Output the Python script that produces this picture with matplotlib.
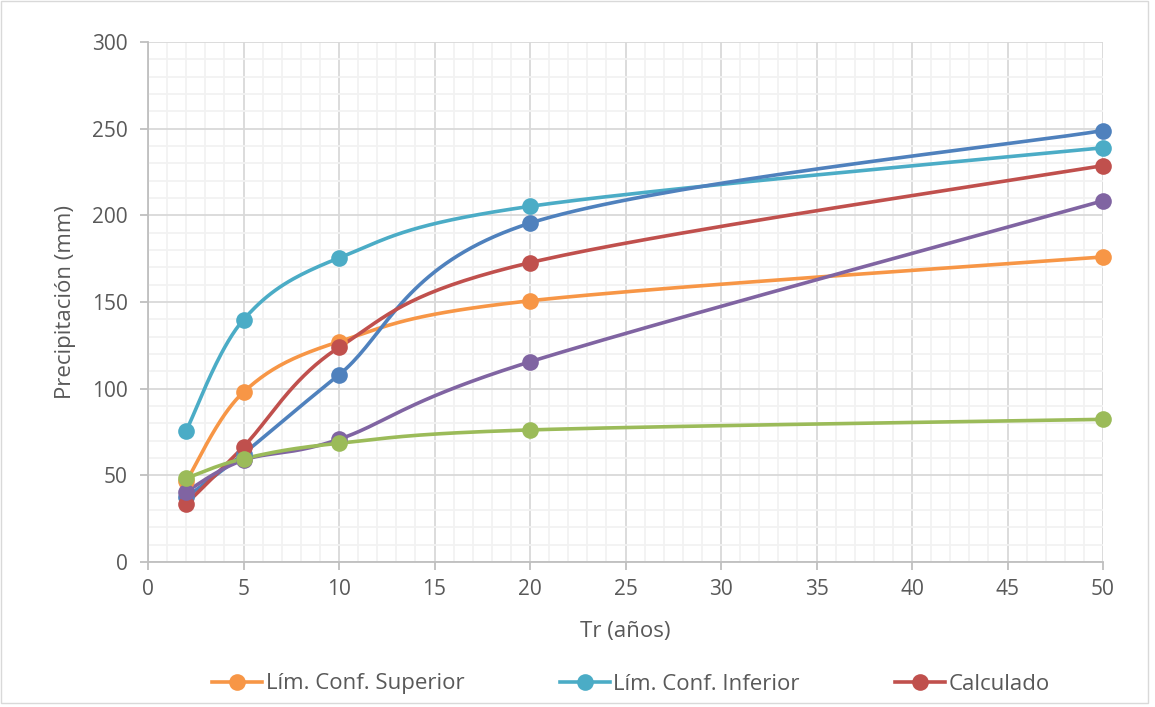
import numpy as np
import matplotlib
matplotlib.use("Agg")
import matplotlib.pyplot as plt
from matplotlib.patches import Rectangle
from matplotlib.lines import Line2D

# Return period (years) and precipitation (mm) for each curve
tr = [2, 5, 10, 20, 50]
lim_sup = [46.5, 98.0, 127.1, 150.7, 176.0]
lim_inf = [75.8, 139.8, 175.4, 205.2, 239.0]
calculado = [33.5, 66.5, 123.8, 172.7, 228.7]
serie_azul = [37.3, 62.5, 108.0, 195.5, 248.9]
serie_morada = [40.6, 58.8, 70.8, 115.5, 208.4]
serie_verde = [48.3, 59.6, 68.5, 76.2, 82.3]

legend_labels = ["Lím. Conf. Superior", "Lím. Conf. Inferior", "Calculado"]

TEXT = "#595959"
FONT = ["Open Sans", "DejaVu Sans"]
plt.rcParams["font.family"] = FONT

LW = 2.6
MS = 12


def smooth(xs, ys, sx, sy, n=40):
    """Bezier smoothing of a polyline (tension 1/6), done in screen-like units."""
    p = np.column_stack([np.asarray(xs, float) * sx, np.asarray(ys, float) * sy])
    out = [p[0]]
    for i in range(len(p) - 1):
        p0 = p[i - 1] if i > 0 else p[i]
        p1, p2 = p[i], p[i + 1]
        p3 = p[i + 2] if i + 2 < len(p) else p[i + 1]
        c1 = p1 + (p2 - p0) / 6.0
        c2 = p2 - (p3 - p1) / 6.0
        t = np.linspace(0, 1, n)[1:, None]
        seg = ((1 - t) ** 3) * p1 + 3 * ((1 - t) ** 2) * t * c1 \
            + 3 * (1 - t) * t ** 2 * c2 + t ** 3 * p2
        out.extend(seg)
    out = np.array(out)
    return out[:, 0] / sx, out[:, 1] / sy


fig = plt.figure(figsize=(11.55, 7.07), dpi=100)
ax = fig.add_axes([148 / 1155, 1 - 562 / 707, 955 / 1155, 520 / 707])

# scale factors roughly matching the plot's pixel aspect
sx, sy = 955 / 50, 520 / 300

series = [
    (lim_inf, "#4BACC6"),
    (lim_sup, "#F79646"),
    (serie_azul, "#4F81BD"),
    (calculado, "#C0504D"),
    (serie_morada, "#8064A2"),
    (serie_verde, "#9BBB59"),
]
for ys, color in series:
    xs_s, ys_s = smooth(tr, ys, sx, sy)
    ax.plot(xs_s, ys_s, color=color, lw=LW, solid_capstyle="round", zorder=3)
    ax.plot(tr, ys, ls="none", marker="o", ms=MS, color=color,
            markeredgewidth=0, zorder=4, clip_on=False)

ax.set_xlim(0, 50)
ax.set_ylim(0, 300)
ax.set_xticks(np.arange(0, 51, 5))
ax.set_yticks(np.arange(0, 301, 50))
ax.set_xticks(np.arange(0, 51, 1), minor=True)
ax.set_yticks(np.arange(0, 301, 10), minor=True)
ax.grid(which="major", color="#D9D9D9", lw=1.3, zorder=0)
ax.grid(which="minor", color="#F2F2F2", lw=1.3, zorder=0)
ax.set_axisbelow(True)

for side in ["top", "right"]:
    ax.spines[side].set_visible(False)
for side in ["left", "bottom"]:
    ax.spines[side].set_color("#BFBFBF")
    ax.spines[side].set_linewidth(1.3)

ax.tick_params(which="major", length=5.5, width=1.3, color="#BFBFBF",
               labelsize=15, labelcolor=TEXT)
ax.tick_params(axis="y", pad=9)
ax.tick_params(axis="x", pad=7)
ax.tick_params(which="minor", length=0)

ax.set_xlabel("Tr (años)", fontsize=16, color=TEXT, va="center")
ax.set_ylabel("Precipitación (mm)", fontsize=16, color=TEXT, va="center")
ax.xaxis.set_label_coords(0.5, (562 - 632) / 520)
ax.yaxis.set_label_coords((65 - 148) / 955, 0.5)

handles = [
    Line2D([], [], color=c, lw=LW, marker="o", ms=MS, markeredgewidth=0)
    for c in ["#F79646", "#4BACC6", "#C0504D"]
]
fig.legend(handles, legend_labels, loc="center", bbox_to_anchor=(631 / 1155, 1 - 684 / 707),
           ncol=3, frameon=False, fontsize=16, labelcolor=TEXT,
           handlelength=2.25, handletextpad=0.15, columnspacing=4.3,
           borderpad=0, borderaxespad=0)

# outer chart border
fig.add_artist(Rectangle((0.5 / 1155, 1 - 703 / 707), 1147 / 1155, 702 / 707,
                         transform=fig.transFigure, fill=False,
                         edgecolor="#D9D9D9", lw=1))

fig.savefig("out.png", dpi=100)
